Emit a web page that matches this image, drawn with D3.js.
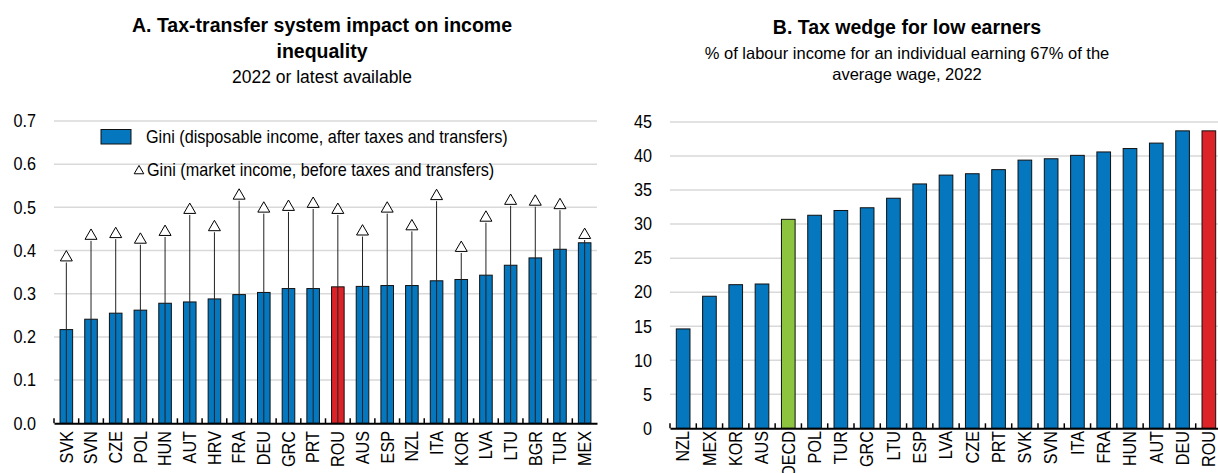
<!DOCTYPE html>
<html>
<head>
<meta charset="utf-8">
<script src="https://cdn.jsdelivr.net/npm/d3@7"></script>
<style>
  body { margin: 0; background: #fff; }
  svg { display: block; font-family: "Liberation Sans", Arial, sans-serif; }
  .grid line { stroke: #d9d9d9; stroke-width: 1.5; }
  .tick-lbl { font-size: 18px; fill: #000; }
</style>
</head>
<body>
<svg id="viz" width="1218" height="473"></svg>
<script>
// Panel A data
var giniCountries = ["SVK","SVN","CZE","POL","HUN","AUT","HRV","FRA","DEU","GRC","PRT","ROU","AUS","ESP","NZL","ITA","KOR","LVA","LTU","BGR","TUR","MEX"];
var giniDisposable = [0.217,0.241,0.255,0.262,0.278,0.281,0.288,0.298,0.303,0.312,0.312,0.316,0.317,0.319,0.319,0.330,0.333,0.343,0.366,0.383,0.403,0.418];
var giniMarket = [0.384,0.434,0.438,0.425,0.443,0.494,0.454,0.527,0.497,0.501,0.508,0.494,0.444,0.497,0.456,0.526,0.406,0.476,0.515,0.513,0.505,0.436];
var giniTicks = [0,0.1,0.2,0.3,0.4,0.5,0.6,0.7];

// Panel B data
var wedgeCountries = ["NZL","MEX","KOR","AUS","OECD","POL","TUR","GRC","LTU","ESP","LVA","CZE","PRT","SVK","SVN","ITA","FRA","HUN","AUT","DEU","ROU"];
var wedgeValues = [14.6,19.4,21.1,21.2,30.7,31.3,32.0,32.4,33.8,35.9,37.2,37.4,38.0,39.4,39.6,40.1,40.6,41.1,41.9,43.7,43.7];
var wedgeTicks = [0,5,10,15,20,25,30,35,40,45];

var blue = "#0477bf", red = "#dc2328", green = "#8cc43f";
var narrow = 0.9;   // squeeze Liberation Sans toward the narrow face of the original

var svg = d3.select("svg#viz");

function barColor(c) {
    if (c == "ROU") return red;
    if (c == "OECD") return green;
    return blue;
}

// draws grid, bars, axis for one panel, returns scales
function panel(opt) {
    var g = svg.append("g");
    var x = d3.scaleBand().domain(opt.cats).range(opt.xr).paddingInner(opt.pad).paddingOuter(opt.pad / 2);
    var y = d3.scaleLinear().domain([0, opt.max]).range(opt.yr);

    g.append("g").attr("class", "grid")
        .selectAll("line").data(opt.ticks.slice(1)).enter()
        .append("line")
        .attr("x1", opt.xr[0]).attr("x2", opt.gridEnd)
        .attr("y1", function(d) { return y(d); })
        .attr("y2", function(d) { return y(d); });

    g.selectAll("text.ylab").data(opt.ticks).enter()
        .append("text").attr("class", "tick-lbl")
        .attr("transform", function(d) {
            return "translate(" + (opt.xr[0] - 18) + "," + y(d) + ") scale(" + narrow + ",1)";
        })
        .attr("dy", "0.35em")
        .attr("text-anchor", "end")
        .text(opt.fmt);

    g.selectAll("rect.bar").data(opt.vals).enter()
        .append("rect")
        .attr("x", function(d, i) { return x(opt.cats[i]); })
        .attr("width", x.bandwidth())
        .attr("y", function(d) { return y(d); })
        .attr("height", function(d) { return y(0) - y(d); })
        .attr("fill", function(d, i) { return barColor(opt.cats[i]); })
        .attr("stroke", "#111")
        .attr("stroke-width", 1);

    // x axis with small inward ticks at the band edges
    var axis = d3.axisBottom(x).tickSize(0).tickFormat("");
    g.append("g").attr("transform", "translate(0," + y(0) + ")").call(axis)
        .select(".domain").attr("stroke", "#000").attr("stroke-width", 2);
    var edges = opt.cats.map(function(c) { return x(c) - x.step() * x.paddingInner() / 2; });
    g.selectAll("line.xt").data(edges).enter()
        .append("line")
        .attr("x1", function(d) { return d; }).attr("x2", function(d) { return d; })
        .attr("y1", y(0)).attr("y2", y(0) - 5)
        .attr("stroke", "#000").attr("stroke-width", 1.5);

    g.selectAll("text.xlab").data(opt.cats).enter()
        .append("text").attr("class", "tick-lbl")
        .attr("transform", function(d) {
            return "translate(" + (x(d) + x.bandwidth() / 2) + "," + opt.labTop + ") rotate(-90) scale(" + narrow + ",1)";
        })
        .attr("dy", "0.35em")
        .attr("text-anchor", "end")
        .text(function(d) { return d; });

    return { x: x, y: y, g: g };
}

var A = panel({
    cats: giniCountries, vals: giniDisposable, ticks: giniTicks, max: 0.7,
    xr: [54, 597], yr: [423.3, 121], gridEnd: 597, pad: 0.49, labTop: 431,
    fmt: function(d) { return d3.format(".1f")(d); }
});

// market income: stem from zero up to the triangle
var tri = d3.symbol().type(d3.symbolTriangle).size(62);
A.g.selectAll("line.stem").data(giniMarket).enter()
    .append("line")
    .attr("x1", function(d, i) { return A.x(giniCountries[i]) + A.x.bandwidth() / 2; })
    .attr("x2", function(d, i) { return A.x(giniCountries[i]) + A.x.bandwidth() / 2; })
    .attr("y1", A.y(0))
    .attr("y2", function(d) { return A.y(d) + 5; })
    .attr("stroke", "#222").attr("stroke-width", 1);
A.g.selectAll("path.mk").data(giniMarket).enter()
    .append("path")
    .attr("d", tri)
    .attr("transform", function(d, i) {
        return "translate(" + (A.x(giniCountries[i]) + A.x.bandwidth() / 2) + "," + A.y(d) + ")";
    })
    .attr("fill", "#fff").attr("stroke", "#000").attr("stroke-width", 1);

// legend
var leg = A.g.append("g");
leg.append("rect").attr("x", 101).attr("y", 129.5).attr("width", 30).attr("height", 14.5)
    .attr("fill", blue).attr("stroke", "#111");
leg.append("text").attr("class", "tick-lbl").attr("transform", "translate(146,137) scale(" + narrow + ",1)")
    .attr("dy", "0.35em")
    .text("Gini (disposable income, after taxes and transfers)");
leg.append("path").attr("d", d3.symbol().type(d3.symbolTriangle).size(40))
    .attr("transform", "translate(139,171)")
    .attr("fill", "#fff").attr("stroke", "#000");
leg.append("text").attr("class", "tick-lbl").attr("transform", "translate(147,170) scale(" + narrow + ",1)")
    .attr("dy", "0.35em")
    .text("Gini (market income, before taxes and transfers)");

var B = panel({
    cats: wedgeCountries, vals: wedgeValues, ticks: wedgeTicks, max: 45,
    xr: [670, 1222], yr: [428.3, 122], gridEnd: 1218, pad: 0.48, labTop: 431,
    fmt: function(d) { return d; }
});

// titles: [text, baseline, bold, size]
function title(cx, lines) {
    lines.forEach(function(l) {
        svg.append("text")
            .attr("x", cx).attr("y", l[1])
            .attr("text-anchor", "middle")
            .attr("font-size", l[3] + "px")
            .attr("font-weight", l[2] ? "bold" : "normal")
            .text(l[0]);
    });
}
title(322, [["A. Tax-transfer system impact on income", 31.5, true, 19.5], ["inequality", 58, true, 19.5], ["2022 or latest available", 83, false, 17.5]]);
title(907, [["B. Tax wedge for low earners", 34, true, 19.5], ["% of labour income for an individual earning 67% of the", 59, false, 16.5], ["average wage, 2022", 80, false, 16.5]]);
</script>
</body>
</html>
